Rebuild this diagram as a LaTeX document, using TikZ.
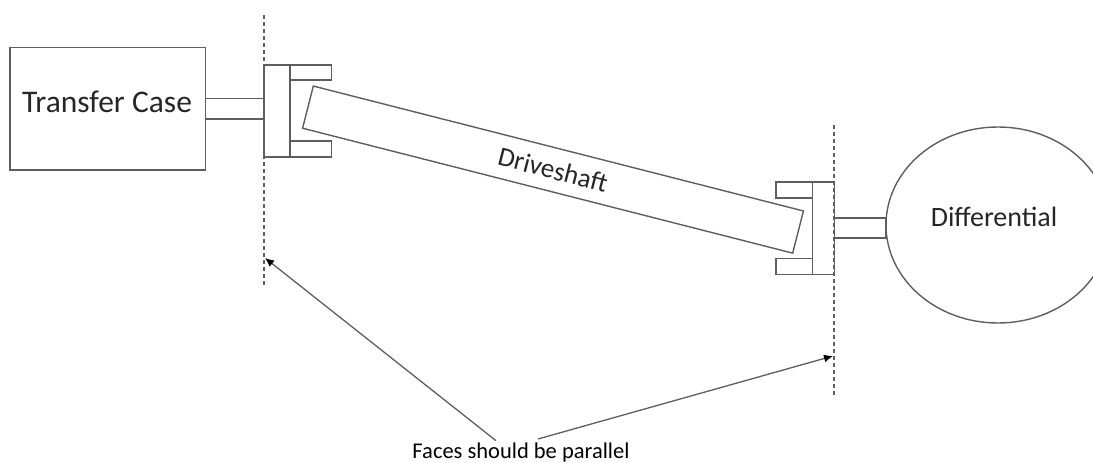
\documentclass[tikz,border=0pt]{standalone}
\usepackage{fontspec}
\setmainfont{Carlito}
\usetikzlibrary{shapes.geometric, arrows.meta, positioning}
\definecolor{mline}{HTML}{5E5E5E}
\definecolor{mtext}{HTML}{262626}
\tikzstyle{part} = [rectangle, draw = mline, line width = 1.4pt, inner sep = 0pt, text = mtext, outer sep = 0pt]
\tikzstyle{gear} = [ellipse, draw = mline, line width = 1.4pt, inner sep = 0pt, outer sep = 0pt]
\tikzstyle{face} = [line width = 1.3pt, dash pattern = on 4pt off 3pt, draw = mline]
\tikzstyle{pointer} = [line width = 1.3pt, draw = mline, -{Latex[length=9pt,width=8pt,black]}]

\begin{document}
\begin{tikzpicture}[x=1pt,y=-1pt,node distance = 0pt]
  \useasboundingbox (0,0) rectangle (1093,463);
  % left end
  \node (transfer) [part, minimum width = 195.5pt, minimum height = 122.5pt] at (107.75,108.75) {};
  \node (transferlabel) at (107,102) [font = \fontsize{31.5}{36}\selectfont, text = mtext] {Transfer Case};
  \node (shaftL) [part, right = of transfer, minimum width = 58.5pt, minimum height = 20.5pt] {};
  \node (flangeL) [part, right = of shaftL, minimum width = 26pt, minimum height = 92pt, yshift = -2.25pt] {};
  \node (tineLa) [part, anchor = north west, minimum width = 41.5pt, minimum height = 15pt] at (flangeL.north east) {};
  \node (tineLb) [part, anchor = south west, minimum width = 41.5pt, minimum height = 16pt] at (flangeL.south east) {};
  % the shaft
  \node (drive) [part, rotate = -14.3, minimum width = 505.8pt, minimum height = 43.5pt, font = \fontsize{27}{32}\selectfont] at (553,169.6) {Driveshaft};
  % right end
  \node (gear) [gear, minimum width = 224pt, minimum height = 196pt] at (998,225) {};
  \node (difflabel) at (994,217) [font = \fontsize{28}{32}\selectfont, text = mtext] {Differential};
  \node (shaftR) [part, left = of gear, minimum width = 51.5pt, minimum height = 20pt, yshift = -3pt] {};
  \node (flangeR) [part, left = of shaftR, minimum width = 22pt, minimum height = 92.5pt, yshift = -0.3pt] {};
  \node (tineRa) [part, anchor = north east, minimum width = 36.5pt, minimum height = 16pt] at (flangeR.north west) {};
  \node (tineRb) [part, anchor = south east, minimum width = 36.5pt, minimum height = 16pt] at (flangeR.south west) {};
  % faces
  \coordinate (faceLa) at (264,15);
  \coordinate (faceLb) at (264,285);
  \coordinate (faceRa) at (834,125);
  \coordinate (faceRb) at (834,395);
  \draw [face] (faceLa) -- (faceLb);
  \draw [face] (faceRa) -- (faceRb);
  \node (note) at (521,452) [font = \fontsize{22.5}{26}\selectfont, text = black] {Faces should be parallel};
  \coordinate (startL) at (496,440.7);
  \coordinate (startR) at (538,439);
  \coordinate (tipL) at (265,258);
  \coordinate (tipR) at (833,356);
  \draw [pointer] (startL) -- (tipL);
  \draw [pointer] (startR) -- (tipR);
\end{tikzpicture}
\end{document}
